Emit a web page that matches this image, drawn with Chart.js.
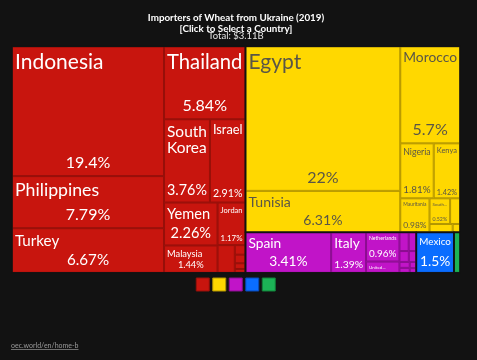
<!DOCTYPE html>
<html>
<head>
<meta charset="utf-8">
<title>Importers of Wheat from Ukraine (2019)</title>
<script src="https://cdn.jsdelivr.net/npm/chart.js@4.4.1/dist/chart.umd.min.js"></script>
<style>
  html, body { margin: 0; padding: 0; background: #121212; }
  #chart { display: block; }
</style>
</head>
<body>
<canvas id="chart" width="477" height="360"></canvas>
<script>
  // shares of total imports (%)
  const continents = ["Asia", "Africa", "Europe", "North America", "South America"];

  const asiaNames = ["Indonesia", "Philippines", "Turkey", "Thailand", "South Korea", "Israel", "Yemen", "Malaysia", "Jordan", "Lebanon", "Georgia", "Qatar", "Oman", "Azerbaijan"];
  const asiaShares = [19.4, 7.79, 6.67, 5.84, 3.76, 2.91, 2.26, 1.44, 1.17, 0.47, 0.1, 0.09, 0.06, 0.04];

  const africaNames = ["Egypt", "Tunisia", "Morocco", "Nigeria", "Kenya", "Mauritania", "South Africa", "Libya", "Sudan", "Ethiopia"];
  const africaShares = [22, 6.31, 5.7, 1.81, 1.42, 0.98, 0.52, 0.25, 0.19, 0.06];

  const europeNames = ["Spain", "Italy", "Netherlands", "United Kingdom", "Portugal", "Greece", "Belgium", "Cyprus", "Malta", "Ireland", "Albania", "Moldova"];
  const europeShares = [3.41, 1.39, 0.96, 0.37, 0.17, 0.14, 0.1, 0.08, 0.06, 0.05, 0.04, 0.03];

  const northAmericaNames = ["Mexico"];
  const northAmericaShares = [1.5];

  const southAmericaNames = ["Venezuela"];
  const southAmericaShares = [0.24];

  const titleLines = ["Importers of Wheat from Ukraine (2019)", "[Click to Select a Country]"];
  const totalLabel = "Total: $3.11B";
  const sourceLabel = "oec.world/en/home-b";

  const fillColors = ["#c8150e", "#ffd800", "#c114c8", "#0a6dff", "#1cb356"];
  const edgeColors = ["#96100a", "#b29500", "#8a0d8f", "#0849b5", "#118038"];
  const textColors = ["#ffffff", "#5a5646", "#ffffff", "#ffffff", "#ffffff"];
  const BG = "#121212";
  const FONT = "Lato";
  const PHI = (1 + Math.sqrt(5)) / 2;

  // d3-style squarified layout, ratio = golden ratio
  function squarify(nodes, x0, y0, x1, y1) {
    let value = nodes.reduce((s, d) => s + d.value, 0);
    const n = nodes.length;
    let i0 = 0, i1 = 0;
    while (i0 < n) {
      const dx = x1 - x0, dy = y1 - y0;
      let sumValue = nodes[i1++].value;
      let minValue = sumValue, maxValue = sumValue;
      const alpha = Math.max(dy / dx, dx / dy) / (value * PHI);
      let beta = sumValue * sumValue * alpha;
      let minRatio = Math.max(maxValue / beta, beta / minValue);
      for (; i1 < n; ++i1) {
        const v = nodes[i1].value;
        sumValue += v;
        if (v < minValue) minValue = v;
        if (v > maxValue) maxValue = v;
        beta = sumValue * sumValue * alpha;
        const r = Math.max(maxValue / beta, beta / minValue);
        if (r > minRatio) { sumValue -= v; break; }
        minRatio = r;
      }
      const row = nodes.slice(i0, i1);
      if (dx < dy) {
        const yEnd = i1 < n ? y0 + dy * sumValue / value : y1;
        let x = x0;
        row.forEach((d) => {
          d.x0 = x; x += (x1 - x0) * d.value / sumValue; d.x1 = x;
          d.y0 = y0; d.y1 = yEnd;
        });
        y0 = yEnd;
      } else {
        const xEnd = i1 < n ? x0 + dx * sumValue / value : x1;
        let y = y0;
        row.forEach((d) => {
          d.y0 = y; y += (y1 - y0) * d.value / sumValue; d.y1 = y;
          d.x0 = x0; d.x1 = xEnd;
        });
        x0 = xEnd;
      }
      value -= sumValue;
      i0 = i1;
    }
  }

  function fitSize(ctx, text, avail) {
    ctx.font = `10px ${FONT}`;
    return 10 * avail / Math.max(1, ctx.measureText(text).width);
  }

  function drawLabel(ctx, cell, color) {
    const w = cell.x1 - cell.x0, h = cell.y1 - cell.y0;
    if (w < 19 || h < 10) return;
    const aw = w - 6;
    const pct = `${cell.value}%`;
    const pctSize = h >= 20 ? Math.max(4, Math.min(16, h * 0.34, fitSize(ctx, pct, aw))) : 0;

    const words = cell.name.split(" ");
    let lines = [cell.name];
    let size = Math.min(21, h * 0.34, fitSize(ctx, cell.name, aw));
    if (words.length > 1) {
      const hRoom = (h - 4 - pctSize * 1.3) / (words.length * 1.1);
      const wrapped = Math.min(21, hRoom, ...words.map((wd) => fitSize(ctx, wd, aw)));
      if (wrapped > size && wrapped >= 7) { lines = words; size = wrapped; }
    }
    if (size < 5 && words.length > 1) {
      lines = [words[0] + "..."];
      size = Math.min(h * 0.4, fitSize(ctx, lines[0], aw));
    }
    size = Math.max(4, size);

    ctx.save();
    ctx.beginPath();
    ctx.rect(cell.x0, cell.y0, w, h);
    ctx.clip();
    ctx.fillStyle = color;
    ctx.textBaseline = "alphabetic";
    ctx.textAlign = "left";
    ctx.font = `${size}px ${FONT}`;
    lines.forEach((ln, i) => {
      ctx.fillText(ln, cell.x0 + 3, cell.y0 + 3 + size * 0.95 + i * size * 1.05);
    });
    if (pctSize) {
      ctx.textAlign = "center";
      ctx.font = `${pctSize}px ${FONT}`;
      ctx.fillText(pct, (cell.x0 + cell.x1) / 2, cell.y1 - pctSize * 0.5);
    }
    ctx.restore();
  }

  const treemapPlugin = {
    id: "treemap",
    afterDatasetsDraw(chart) {
      const { ctx, scales: { x, y } } = chart;
      const left = x.getPixelForValue(0), right = x.getPixelForValue(1);
      const top = y.getPixelForValue(1), bottom = y.getPixelForValue(0);

      const groups = chart.data.datasets
        .map((ds, i) => ({
          index: i,
          value: ds.shares.reduce((s, v) => s + v, 0),
          children: ds.names.map((name, j) => ({ name, value: ds.shares[j] }))
        }))
        .filter((g) => chart.isDatasetVisible(g.index))
        .sort((a, b) => b.value - a.value);
      if (!groups.length) return;

      squarify(groups, left, top, right, bottom);

      ctx.save();
      groups.forEach((g) => {
        g.children.sort((a, b) => b.value - a.value);
        squarify(g.children, g.x0, g.y0, g.x1, g.y1);
        g.children.forEach((c) => {
          ctx.fillStyle = fillColors[g.index];
          ctx.fillRect(c.x0, c.y0, c.x1 - c.x0, c.y1 - c.y0);
          ctx.strokeStyle = edgeColors[g.index];
          ctx.lineWidth = 1;
          ctx.strokeRect(c.x0 + 0.5, c.y0 + 0.5, c.x1 - c.x0 - 1, c.y1 - c.y0 - 1);
        });
        g.children.forEach((c) => drawLabel(ctx, c, textColors[g.index]));
      });
      groups.forEach((g) => {
        ctx.strokeStyle = BG;
        ctx.lineWidth = 1.5;
        ctx.strokeRect(g.x0, g.y0, g.x1 - g.x0, g.y1 - g.y0);
      });
      ctx.restore();
    },
    afterDraw(chart) {
      const { ctx } = chart;
      ctx.save();
      ctx.font = `7px ${FONT}`;
      ctx.fillStyle = "#9a9a9a";
      ctx.textBaseline = "alphabetic";
      ctx.textAlign = "left";
      ctx.fillText(sourceLabel, 11, 348);
      ctx.fillRect(11, 349, ctx.measureText(sourceLabel).width, 0.7);
      ctx.restore();
    }
  };

  Chart.defaults.font.family = FONT;

  const datasetNames = [asiaNames, africaNames, europeNames, northAmericaNames, southAmericaNames];
  const datasetShares = [asiaShares, africaShares, europeShares, northAmericaShares, southAmericaShares];

  new Chart(document.getElementById("chart"), {
    type: "scatter",
    data: {
      datasets: continents.map((label, i) => ({
        label,
        data: [],
        names: datasetNames[i],
        shares: datasetShares[i],
        backgroundColor: fillColors[i],
        borderColor: edgeColors[i]
      }))
    },
    options: {
      responsive: false,
      animation: false,
      layout: { padding: { left: 12, right: 17, top: 0, bottom: 59 } },
      scales: {
        x: { type: "linear", min: 0, max: 1, display: false },
        y: { type: "linear", min: 0, max: 1, display: false }
      },
      plugins: {
        title: {
          display: true,
          text: titleLines,
          color: "#ffffff",
          font: { size: 9.8, weight: "bold", lineHeight: 1.16 },
          padding: { top: 12, bottom: 0 }
        },
        subtitle: {
          display: true,
          text: totalLabel,
          color: "#e6e6e6",
          font: { size: 9.5, weight: "normal", lineHeight: 0.2 },
          padding: { top: 0.5, bottom: 9.2 }
        },
        legend: {
          position: "bottom",
          title: { display: true, text: "", padding: { top: 1, bottom: 0 }, font: { size: 1 } },
          labels: {
            boxWidth: 13,
            boxHeight: 13,
            padding: 3,
            font: { size: 1 },
            generateLabels: (chart) => chart.data.datasets.map((ds, i) => ({
              text: "",
              fillStyle: fillColors[i],
              strokeStyle: edgeColors[i],
              lineWidth: 1,
              hidden: !chart.isDatasetVisible(i),
              datasetIndex: i
            }))
          }
        },
        tooltip: { enabled: false }
      }
    },
    plugins: [treemapPlugin]
  });
</script>
</body>
</html>
